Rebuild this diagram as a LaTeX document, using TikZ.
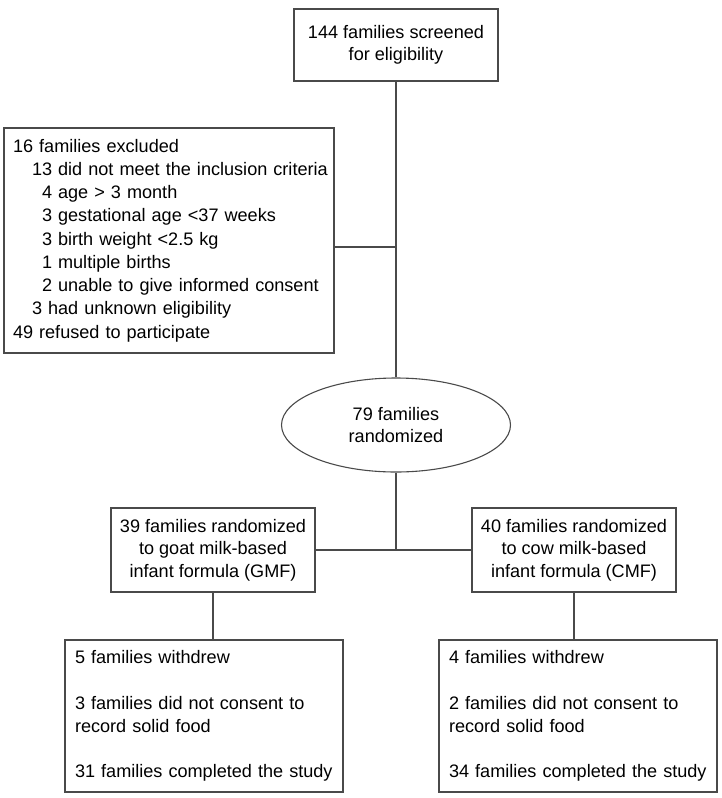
\documentclass[tikz,border=0pt]{standalone}
\usepackage{fontspec}
\setmainfont{Liberation Sans}
\usetikzlibrary{shapes.geometric}
\definecolor{linegray}{HTML}{4A4A4A}
\tikzset{
  every node/.style={font=\fontsize{18.1}{23.25}\selectfont, text=black},
  box/.style={draw=linegray, line width=1.1pt, rectangle, align=center, inner sep=0pt},
  listbox/.style={draw=linegray, line width=1.1pt, rectangle, align=left, inner xsep=9pt, inner ysep=0pt},
  oval/.style={draw=linegray, line width=1.1pt, ellipse, align=center, inner sep=0pt, minimum width=229pt, minimum height=94pt},
  conn/.style={draw=linegray, line width=1.1pt}
}
\begin{document}
\begin{tikzpicture}[x=1pt,y=-1pt]
\useasboundingbox (0,0) rectangle (722,798);
% top box
\node[box, minimum width=204pt, minimum height=72pt, font=\fontsize{18.1}{22}\selectfont] (screen) at (396,45)
  {144 families screened\\for eligibility};
% exclusion box
\node[listbox, minimum width=330pt, minimum height=225pt, text width=312pt] (excl) at (169,240.5)
  {\mbox{16 families excluded}\\
   \mbox{\hspace*{19pt}13 did not meet the inclusion criteria}\\
   \mbox{\hspace*{29pt}4 age > 3 month}\\
   \mbox{\hspace*{29pt}3 gestational age <37 weeks}\\
   \mbox{\hspace*{29pt}3 birth weight <2.5 kg}\\
   \mbox{\hspace*{29pt}1 multiple births}\\
   \mbox{\hspace*{29pt}2 unable to give informed consent}\\
   \mbox{\hspace*{19pt}3 had unknown eligibility}\\
   \mbox{49 refused to participate}};
% ellipse
\node[oval, font=\fontsize{18.1}{22}\selectfont] (rand) at (396,425) {79 families\\randomized};
% arms
\node[box, minimum width=204pt, minimum height=84pt, font=\fontsize{18.1}{22.5}\selectfont] (gmf) at (213,550)
  {39 families randomized\\to goat milk-based\\infant formula (GMF)};
\node[box, minimum width=204pt, minimum height=84pt, font=\fontsize{18.1}{22.5}\selectfont] (cmf) at (574,550)
  {40 families randomized\\to cow milk-based\\infant formula (CMF)};
% outcome boxes
\node[listbox, inner xsep=10pt, minimum width=278pt, minimum height=152pt, text width=258pt, font=\fontsize{18.1}{22.8}\selectfont] (outg) at (204,716)
  {\mbox{5 families withdrew}\\[22.8pt]
   \mbox{3 families did not consent to}\\
   \mbox{record solid food}\\[22.8pt]
   \mbox{31 families completed the study}};
\node[listbox, inner xsep=10pt, minimum width=278pt, minimum height=152pt, text width=258pt, font=\fontsize{18.1}{22.8}\selectfont] (outc) at (578,716)
  {\mbox{4 families withdrew}\\[22.8pt]
   \mbox{2 families did not consent to}\\
   \mbox{record solid food}\\[22.8pt]
   \mbox{34 families completed the study}};
% junctions
\coordinate (jex) at (396,247);
\coordinate (jarm) at (396,550);
% connectors
\draw[conn] (screen.south) -- (rand.north);
\draw[conn] (excl.east |- jex) -- (jex);
\draw[conn] (rand.south) -- (jarm);
\draw[conn] (gmf.east) -- (cmf.west);
\draw[conn] (gmf.south) -- (gmf.south |- outg.north);
\draw[conn] (cmf.south) -- (cmf.south |- outc.north);
\end{tikzpicture}
\end{document}
